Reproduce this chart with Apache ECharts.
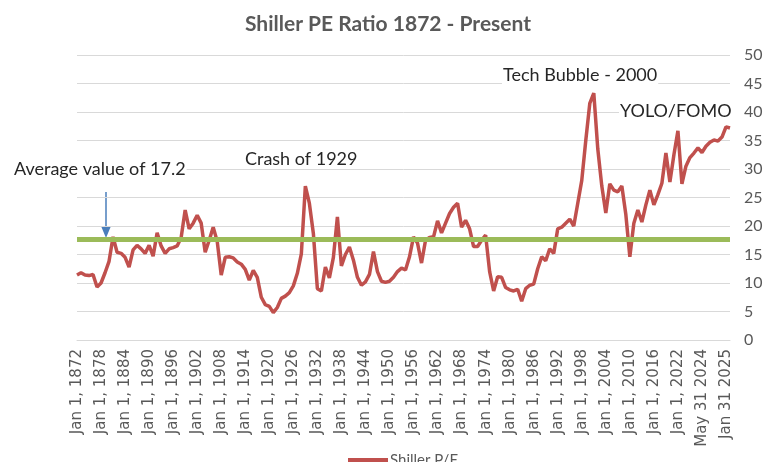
<!DOCTYPE html>
<html><head><meta charset="utf-8">
<script src="https://cdn.jsdelivr.net/npm/echarts@6/dist/echarts.min.js"></script>
<style>html,body{margin:0;padding:0;background:#fff}#c{width:775px;height:462px}</style>
</head><body><div id="c"></div>
<script>
// ---- categories (x axis) ----
const firstYear = 1872;
const lastYearlyYear = 2022;
const recentDates = ['Jan 1, 2023','Jul 1, 2023','Jan 1, 2024','Mar 31 2024','Apr 30 2024',
  'May 31 2024','Jun 30 2024','Jul 31 2024','Aug 31 2024','Oct 31 2024','Dec 31 2024',
  'Jan 31 2025','Feb 28 2025'];
const categories = [];
for (let y = firstYear; y <= lastYearlyYear; y++) categories.push('Jan 1, ' + y);
recentDates.forEach(d => categories.push(d));
const labelEvery = 6;

// ---- series values ----
const shillerPE = [
  11.4, 11.8, 11.4, 11.3, 11.5, 9.3, 10.0, 11.8, 13.8, 18.1,
  15.4, 15.2, 14.5, 12.8, 15.8, 16.6, 16.0, 15.2, 16.6, 14.7,
  18.8, 16.5, 15.2, 16.0, 16.2, 16.5, 18.0, 22.8, 19.5, 20.5,
  21.9, 20.5, 15.4, 17.5, 19.8, 17.3, 11.4, 14.5, 14.6, 14.4,
  13.7, 13.3, 12.4, 10.5, 12.2, 11.0, 7.5, 6.2, 5.9, 4.8,
  5.7, 7.3, 7.7, 8.3, 9.5, 11.7, 15.1, 27.0, 24.0, 18.7,
  9.0, 8.6, 12.8, 10.9, 14.5, 21.6, 13.0, 15.0, 16.3, 14.0,
  11.0, 9.6, 10.2, 11.5, 15.5, 12.0, 10.3, 10.1, 10.3, 11.0,
  12.0, 12.6, 12.3, 14.6, 18.1, 17.0, 13.5, 17.5, 18.0, 18.1,
  20.9, 18.8, 20.5, 22.2, 23.3, 24.0, 19.8, 21.0, 19.5, 16.4,
  16.4, 17.5, 18.4, 12.0, 8.6, 11.1, 11.0, 9.2, 8.8, 8.6,
  8.9, 6.8, 9.0, 9.6, 9.8, 12.5, 14.6, 13.9, 16.0, 15.2,
  19.5, 19.8, 20.5, 21.2, 20.0, 24.0, 28.0, 35.0, 41.5, 43.3,
  33.5, 27.0, 22.3, 27.4, 26.3, 26.0, 27.0, 22.0, 14.6, 20.5,
  22.8, 20.7, 23.7, 26.3, 23.7, 25.5, 27.5, 32.8, 27.7, 32.5,
  36.7, 27.4, 30.5, 32.0, 32.8, 33.7, 32.9, 34.0, 34.7, 35.1,
  34.9, 35.6, 37.4, 37.2
];
const averageLevel = 17.6;

// ---- value axis ticks ----
const yMin = 0, yMax = 50, yStep = 5;

const chart = echarts.init(document.getElementById('c'), null, {renderer: 'canvas'});
const txt = '#262626';
const annoStyle = (s) => ({text: s, font: '18px Lato', fill: txt, backgroundColor: '#ffffff', padding: [0, 1]});
chart.setOption({
  animation: false,
  backgroundColor: '#ffffff',
  title: {
    text: 'Shiller PE Ratio 1872 - Present',
    left: 383, top: 9, textAlign: 'center',
    textStyle: {fontFamily: 'Lato', fontSize: 21, fontWeight: 'bold', color: '#595959'}
  },
  legend: {
    data: [{name: 'Shiller P/E', itemStyle: {color: '#c0504d'}}],
    left: 343, top: 448,
    icon: 'rect', itemWidth: 40, itemHeight: 5, itemGap: 10,
    textStyle: {fontFamily: 'Lato', fontSize: 15, color: '#595959', padding: [0,0,0,-3]}
  },
  grid: {left: 77, right: 45, top: 55, bottom: 122, containLabel: false, outerBoundsMode: 'none'},
  xAxis: {
    type: 'category', data: categories, boundaryGap: false,
    axisLine: {show: true, lineStyle: {color: '#d9d9d9', width: 1}},
    axisTick: {show: false},
    axisLabel: {
      rotate: 90, margin: 9,
      interval: (i) => i % labelEvery === 0,
      fontFamily: 'DejaVu Sans', fontSize: 15, color: '#595959'
    },
    splitLine: {show: false}
  },
  yAxis: {
    type: 'value', position: 'right', min: yMin, max: yMax, interval: yStep,
    axisLine: {show: false}, axisTick: {show: false},
    axisLabel: {margin: 14, fontFamily: 'Lato', fontSize: 16, color: '#595959'},
    splitLine: {lineStyle: {color: '#d9d9d9', width: 1}}
  },
  series: [{
    name: 'Shiller P/E', type: 'line', data: shillerPE,
    showSymbol: false, symbol: 'none',
    lineStyle: {color: '#c0504d', width: 3.5},
    itemStyle: {color: '#c0504d'},
    markLine: {
      silent: true, symbol: ['none', 'none'],
      label: {show: false},
      lineStyle: {color: '#9bbb59', width: 5, type: 'solid'},
      data: [{yAxis: averageLevel}]
    }
  }],
  graphic: [
    {type: 'text', left: 13, top: 160, z: 10, style: annoStyle('Average value of 17.2')},
    {type: 'text', left: 244, top: 150, z: 10, style: annoStyle('Crash of 1929')},
    {type: 'text', left: 502, top: 66, z: 10, style: annoStyle('Tech Bubble - 2000')},
    {type: 'text', left: 619, top: 102, z: 10, style: annoStyle('YOLO/FOMO')},
    {type: 'line', shape: {x1: 106, y1: 192, x2: 106, y2: 228}, style: {stroke: '#4a7ebb', lineWidth: 1.5}},
    {type: 'polygon', shape: {points: [[101, 226], [111, 226], [106, 238]]}, style: {fill: '#4a7ebb'}}
  ]
});
</script></body></html>
